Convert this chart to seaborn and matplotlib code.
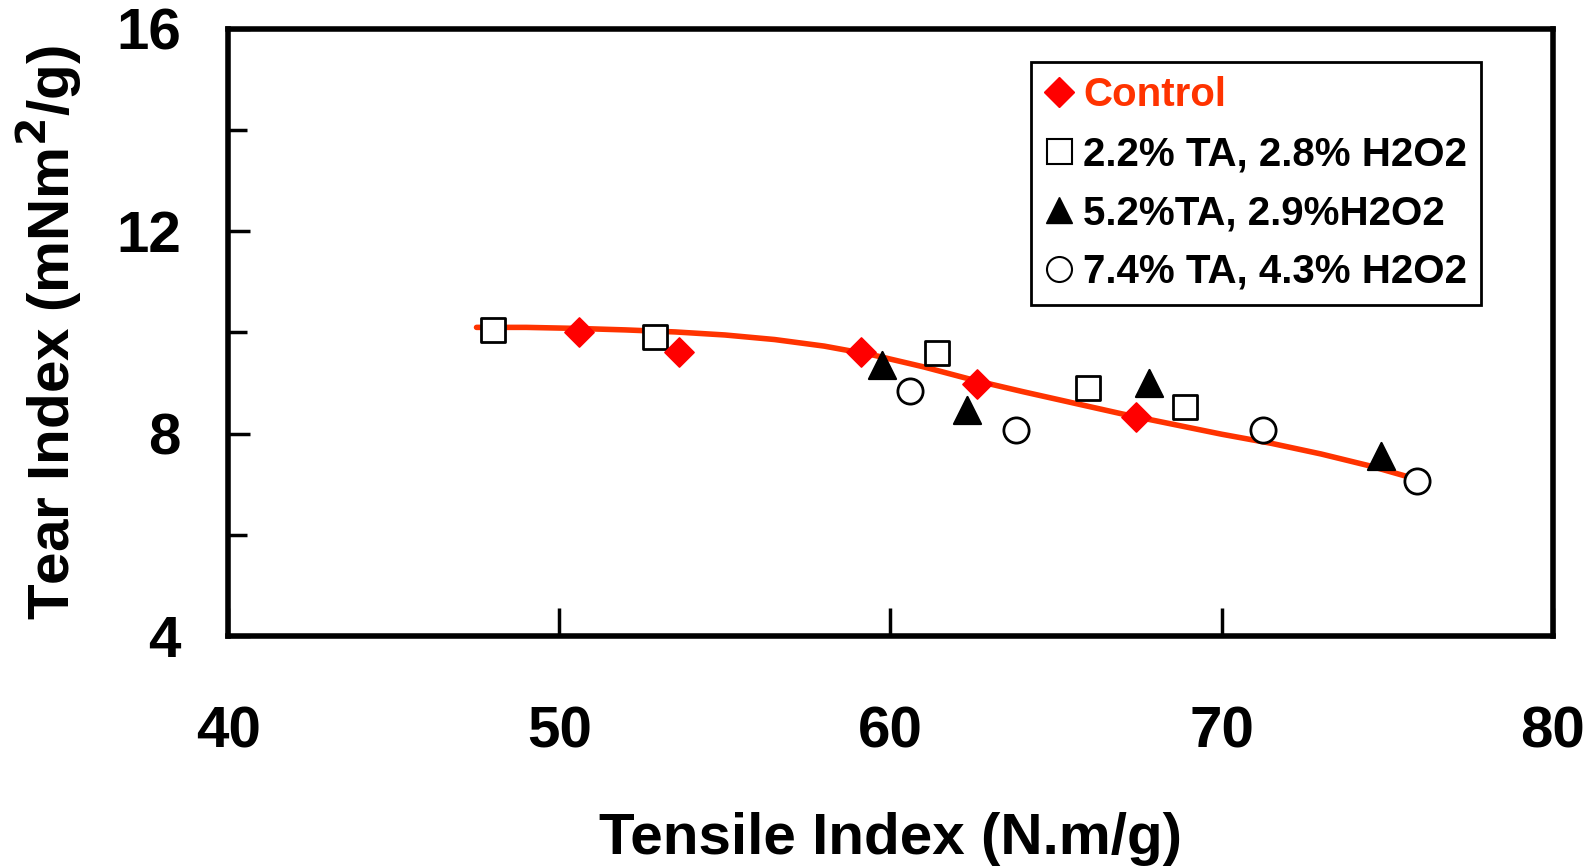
import matplotlib
matplotlib.use('Agg')
import matplotlib.pyplot as plt
import seaborn as sns
import pandas as pd
from matplotlib.lines import Line2D

sns.set_style('ticks', {'axes.edgecolor': 'black', 'text.color': 'black',
                        'xtick.color': 'black', 'ytick.color': 'black',
                        'axes.labelcolor': 'black'})
plt.rcParams['font.family'] = ['Liberation Sans', 'DejaVu Sans']
plt.rcParams['font.weight'] = 'bold'

# values
ctrl_x = [50.6, 53.6, 59.1, 62.6, 67.4]
ctrl_y = [10.0, 9.61, 9.61, 8.99, 8.33]
ta22_x = [48.0, 52.9, 61.4, 65.95, 68.9]
ta22_y = [10.05, 9.91, 9.59, 8.91, 8.53]
ta52_x = [59.75, 62.3, 67.8, 74.8]
ta52_y = [9.35, 8.47, 9.01, 7.55]
ta74_x = [60.6, 63.8, 71.25, 75.9]
ta74_y = [8.85, 8.07, 8.07, 7.07]
# trend line
fit_x = [47.5, 49, 50.5, 52, 53.5, 55, 56.5, 58, 59.5, 61, 62.5, 64, 65.5, 67,
         68.5, 70, 71.5, 73, 74.5, 76]
fit_y = [10.10, 10.10, 10.08, 10.05, 10.01, 9.95, 9.86, 9.73, 9.55, 9.32, 9.06,
         8.83, 8.61, 8.39, 8.19, 7.99, 7.81, 7.60, 7.36, 7.08]

labels = ['Control', '2.2% TA, 2.8% H2O2', '5.2%TA, 2.9%H2O2', '7.4% TA, 4.3% H2O2']

fig = plt.figure(figsize=(15.91, 8.68), dpi=100)
ax = fig.add_axes([0.1434, 0.267, 0.8326, 0.70])

fit = pd.DataFrame({'x': fit_x, 'y': fit_y})
sns.lineplot(data=fit, x='x', y='y', ax=ax, color='#ff3300', linewidth=4, zorder=2)

sns.scatterplot(x=ta22_x, y=ta22_y, ax=ax, marker='s', s=300, facecolor='white',
                edgecolor='black', linewidth=2, zorder=3)
sns.scatterplot(x=ta52_x, y=ta52_y, ax=ax, marker='^', s=380, color='black',
                edgecolor='black', zorder=3)
sns.scatterplot(x=ta74_x, y=ta74_y, ax=ax, marker='o', s=330, facecolor='white',
                edgecolor='black', linewidth=2, zorder=3)
sns.scatterplot(x=ctrl_x, y=ctrl_y, ax=ax, marker='D', s=220, color='#ff0000',
                edgecolor='#ff0000', zorder=4)

ax.set_xlim(40, 80)
ax.set_ylim(4, 16)
ax.set_xticks([40, 50, 60, 70, 80])
ax.set_yticks([4, 8, 12, 16])
ax.set_yticks([6, 10, 14], minor=True)
ax.tick_params(axis='both', which='both', direction='in', width=2.5, labelsize=42,
               color='black', labelcolor='black')
ax.tick_params(axis='x', which='major', length=20, pad=50)
ax.tick_params(axis='y', which='major', length=16, pad=34)
ax.tick_params(axis='y', which='minor', length=14)
ax.tick_params(axis='x', top=False)
for sp in ax.spines.values():
    sp.set_linewidth(4)
    sp.set_color('black')
    sp.set_visible(True)

ax.set_xlabel('Tensile Index (N.m/g)', fontsize=42, fontweight='bold', labelpad=38,
              color='black')
ax.set_ylabel('Tear Index (mNm$^\\mathbf{2}$/g)', fontsize=42, fontweight='bold',
              labelpad=23, color='black')

handles = [
    Line2D([], [], marker='D', linestyle='none', color='#ff0000', markersize=15),
    Line2D([], [], marker='s', linestyle='none', markerfacecolor='white',
           markeredgecolor='black', markeredgewidth=1.5, markersize=18),
    Line2D([], [], marker='^', linestyle='none', color='black', markersize=19),
    Line2D([], [], marker='o', linestyle='none', markerfacecolor='white',
           markeredgecolor='black', markeredgewidth=1.5, markersize=18),
]
leg = ax.legend(handles, labels, loc='upper right', bbox_to_anchor=(0.946, 0.945),
                fontsize=29, frameon=True, fancybox=False, framealpha=1,
                edgecolor='black', handlelength=0.7, handletextpad=0.25,
                labelspacing=0.52, borderpad=0.35, borderaxespad=0)
leg.get_frame().set_linewidth(2)
leg.get_texts()[0].set_color('#ff3300')

fig.savefig('out.png', dpi=100)
